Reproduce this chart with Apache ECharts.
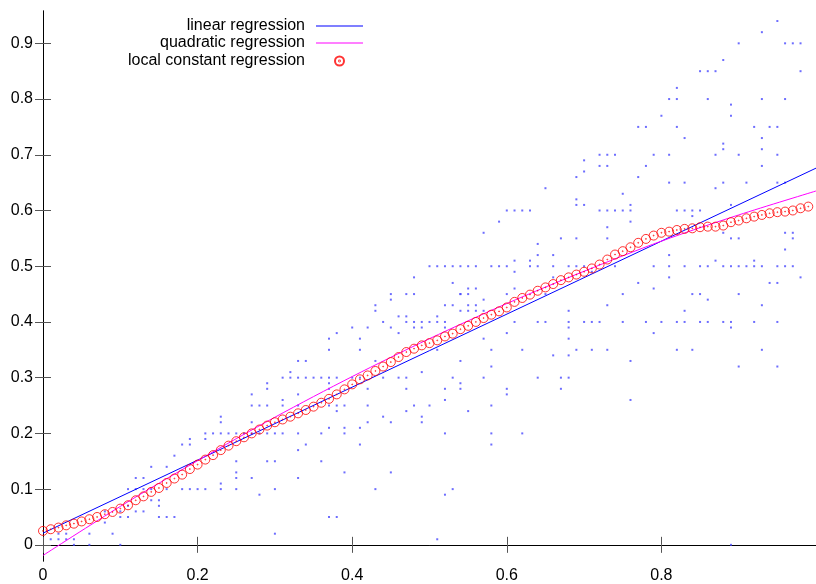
<!DOCTYPE html>
<html>
<head>
<meta charset="utf-8">
<script src="https://cdn.jsdelivr.net/npm/echarts@6/dist/echarts.min.js"></script>
<style>
  html, body { margin: 0; padding: 0; background: #fff; }
  #chart { width: 816px; height: 584px; }
</style>
</head>
<body>
<div id="chart"></div>
<script>
// tick labels
const xTicks = [0, 0.2, 0.4, 0.6, 0.8]
const yTicks = [0, 0.1, 0.2, 0.3, 0.4, 0.5, 0.6, 0.7, 0.8, 0.9]

// raw observations (x, y)
const dots = [
  [0.01, 0.01], [0.02, 0.01], [0.03, 0.01], [0.04, 0.01], [0.02, 0.02], [0.03, 0.02], [0.04, 0.00], [0.06, 0.00],
  [0.10, 0.00], [0.06, 0.02], [0.09, 0.02], [0.08, 0.04], [0.08, 0.06], [0.10, 0.06], [0.12, 0.06], [0.13, 0.06],
  [0.10, 0.05], [0.11, 0.05], [0.15, 0.05], [0.16, 0.05], [0.17, 0.05], [0.11, 0.07], [0.15, 0.07], [0.14, 0.08],
  [0.15, 0.08], [0.11, 0.10], [0.12, 0.10], [0.13, 0.10], [0.14, 0.10], [0.16, 0.10], [0.18, 0.10], [0.19, 0.10],
  [0.20, 0.10], [0.21, 0.10], [0.23, 0.10], [0.25, 0.10], [0.30, 0.10], [0.28, 0.09], [0.23, 0.11], [0.12, 0.12],
  [0.13, 0.12], [0.25, 0.12], [0.27, 0.12], [0.33, 0.12], [0.25, 0.13], [0.14, 0.14], [0.16, 0.14], [0.25, 0.15],
  [0.29, 0.15], [0.30, 0.15], [0.36, 0.15], [0.17, 0.16], [0.33, 0.17], [0.18, 0.18], [0.19, 0.18], [0.34, 0.18],
  [0.19, 0.19], [0.21, 0.19], [0.30, 0.02],
  [0.21, 0.20], [0.22, 0.20], [0.23, 0.20], [0.24, 0.20], [0.25, 0.20], [0.26, 0.20], [0.27, 0.20], [0.28, 0.20],
  [0.29, 0.20], [0.30, 0.20], [0.31, 0.20], [0.33, 0.20], [0.36, 0.20], [0.39, 0.20],
  [0.37, 0.21], [0.39, 0.21], [0.41, 0.21], [0.23, 0.22], [0.27, 0.22], [0.42, 0.22], [0.45, 0.22], [0.49, 0.22],
  [0.23, 0.23], [0.44, 0.23], [0.49, 0.23], [0.38, 0.24], [0.47, 0.24],
  [0.27, 0.25], [0.28, 0.25], [0.29, 0.25], [0.31, 0.25], [0.33, 0.25], [0.37, 0.25], [0.38, 0.25], [0.39, 0.25],
  [0.42, 0.25], [0.48, 0.25], [0.50, 0.25], [0.31, 0.26], [0.52, 0.26], [0.27, 0.27], [0.33, 0.27],
  [0.29, 0.28], [0.37, 0.28], [0.42, 0.28], [0.47, 0.28], [0.52, 0.28], [0.29, 0.29], [0.37, 0.29],
  [0.31, 0.30], [0.32, 0.30], [0.33, 0.30], [0.34, 0.30], [0.35, 0.30], [0.36, 0.30], [0.37, 0.30], [0.38, 0.30],
  [0.40, 0.30], [0.41, 0.30], [0.44, 0.30], [0.46, 0.30], [0.47, 0.30], [0.53, 0.30],
  [0.32, 0.31], [0.49, 0.31], [0.33, 0.33], [0.34, 0.33], [0.43, 0.33], [0.37, 0.35], [0.41, 0.35], [0.51, 0.35],
  [0.37, 0.37], [0.41, 0.37], [0.38, 0.38], [0.46, 0.38],
  [0.40, 0.39], [0.42, 0.39], [0.45, 0.39], [0.48, 0.39], [0.49, 0.39], [0.52, 0.39],
  [0.44, 0.40], [0.47, 0.40], [0.48, 0.40], [0.49, 0.40], [0.50, 0.40], [0.51, 0.40], [0.52, 0.40],
  [0.46, 0.41], [0.47, 0.41], [0.51, 0.41], [0.43, 0.42], [0.56, 0.42],
  [0.43, 0.43], [0.52, 0.43], [0.53, 0.43], [0.55, 0.43], [0.56, 0.43], [0.45, 0.44],
  [0.45, 0.45], [0.47, 0.45], [0.48, 0.45], [0.54, 0.45], [0.55, 0.45], [0.56, 0.46], [0.53, 0.47], [0.48, 0.48],
  [0.50, 0.50], [0.51, 0.50], [0.52, 0.50], [0.53, 0.50], [0.54, 0.50], [0.55, 0.50], [0.56, 0.50],
  [0.72, 0.70], [0.70, 0.69], [0.72, 0.68], [0.70, 0.67], [0.69, 0.66], [0.65, 0.64], [0.69, 0.62], [0.69, 0.61],
  [0.70, 0.61], [0.60, 0.60], [0.61, 0.60], [0.62, 0.60], [0.63, 0.60], [0.72, 0.60],
  [0.59, 0.58], [0.57, 0.56], [0.67, 0.55], [0.69, 0.55], [0.64, 0.54], [0.64, 0.52], [0.66, 0.52], [0.61, 0.51],
  [0.63, 0.51], [0.58, 0.50], [0.59, 0.50], [0.60, 0.50], [0.63, 0.50], [0.64, 0.50], [0.66, 0.50], [0.68, 0.50],
  [0.69, 0.50], [0.70, 0.50], [0.61, 0.49], [0.71, 0.49], [0.66, 0.48], [0.55, 0.46], [0.61, 0.46],
  [0.54, 0.45], [0.60, 0.45], [0.65, 0.45], [0.57, 0.44], [0.54, 0.42], [0.55, 0.42], [0.57, 0.42], [0.68, 0.42],
  [0.61, 0.40], [0.64, 0.40], [0.65, 0.40], [0.68, 0.40], [0.70, 0.40], [0.71, 0.40], [0.72, 0.40],
  [0.68, 0.39], [0.60, 0.38], [0.57, 0.37], [0.68, 0.37], [0.58, 0.35], [0.62, 0.35], [0.69, 0.35], [0.71, 0.35],
  [0.66, 0.34], [0.68, 0.34], [0.54, 0.33], [0.58, 0.32], [0.57, 0.30], [0.64, 0.30], [0.67, 0.30], [0.68, 0.30],
  [0.54, 0.29], [0.54, 0.28], [0.60, 0.28], [0.67, 0.28], [0.60, 0.27], [0.58, 0.25], [0.55, 0.24],
  [0.58, 0.20], [0.62, 0.20], [0.58, 0.18], [0.52, 0.20], [0.41, 0.18],
  [0.39, 0.13], [0.45, 0.13], [0.43, 0.10], [0.53, 0.10], [0.52, 0.09], [0.37, 0.05], [0.38, 0.05], [0.51, 0.01],
  [0.95, 0.94], [0.93, 0.92], [0.90, 0.90], [0.96, 0.90], [0.97, 0.90], [0.98, 0.90], [0.88, 0.87],
  [0.85, 0.85], [0.86, 0.85], [0.87, 0.85], [0.98, 0.85], [0.82, 0.82],
  [0.81, 0.80], [0.82, 0.80], [0.86, 0.80], [0.93, 0.80], [0.96, 0.80], [0.89, 0.79], [0.80, 0.77], [0.89, 0.77],
  [0.77, 0.75], [0.78, 0.75], [0.82, 0.75], [0.92, 0.75], [0.94, 0.75], [0.95, 0.75],
  [0.83, 0.73], [0.93, 0.73], [0.88, 0.72], [0.88, 0.71], [0.93, 0.71],
  [0.73, 0.70], [0.74, 0.70], [0.79, 0.70], [0.81, 0.70], [0.87, 0.70], [0.90, 0.70], [0.95, 0.70],
  [0.73, 0.68], [0.78, 0.68], [0.93, 0.68], [0.77, 0.66],
  [0.81, 0.65], [0.83, 0.65], [0.88, 0.65], [0.91, 0.65], [0.95, 0.65], [0.96, 0.65],
  [0.87, 0.64], [0.75, 0.63], [0.76, 0.61], [0.89, 0.61],
  [0.73, 0.60], [0.74, 0.60], [0.75, 0.60], [0.76, 0.60], [0.82, 0.60], [0.83, 0.60], [0.84, 0.60], [0.85, 0.60],
  [0.84, 0.59], [0.76, 0.58], [0.73, 0.57], [0.88, 0.56], [0.96, 0.56], [0.97, 0.56],
  [0.73, 0.55], [0.89, 0.55], [0.90, 0.55], [0.97, 0.55], [0.96, 0.53], [0.81, 0.52], [0.87, 0.51], [0.92, 0.51],
  [0.74, 0.50], [0.79, 0.50], [0.81, 0.50], [0.83, 0.50], [0.85, 0.50], [0.86, 0.50], [0.88, 0.50], [0.89, 0.50],
  [0.90, 0.50], [0.91, 0.50], [0.92, 0.50], [0.93, 0.50], [0.95, 0.50], [0.96, 0.50], [0.97, 0.50],
  [0.81, 0.48], [0.98, 0.48], [0.77, 0.47], [0.94, 0.47], [0.95, 0.47], [0.79, 0.46],
  [0.75, 0.45], [0.84, 0.45], [0.85, 0.45], [0.90, 0.45], [0.86, 0.44], [0.73, 0.43], [0.93, 0.43], [0.83, 0.42],
  [0.75, 0.40], [0.78, 0.40], [0.80, 0.40], [0.82, 0.40], [0.83, 0.40], [0.85, 0.40], [0.86, 0.40], [0.88, 0.40],
  [0.89, 0.40], [0.92, 0.40], [0.95, 0.40],
  [0.89, 0.39], [0.79, 0.38], [0.73, 0.35], [0.82, 0.35], [0.84, 0.35], [0.93, 0.35], [0.76, 0.33], [0.90, 0.32],
  [0.95, 0.32], [0.76, 0.26], [0.89, 0.00]
]

// fitted lines
const linX = [0, 1]
const linY = [0.021, 0.676]
const quadX = [0, 0.1, 0.2, 0.3, 0.4, 0.5, 0.6, 0.7, 0.8, 0.9, 1.0]
const quadY = [-0.019, 0.069, 0.151, 0.229, 0.302, 0.370, 0.433, 0.491, 0.545, 0.592, 0.635]

// local constant regression, evaluated at x = 0, 0.01, ... 0.99
const locX = [
  0.00, 0.01, 0.02, 0.03, 0.04, 0.05, 0.06, 0.07, 0.08, 0.09,
  0.10, 0.11, 0.12, 0.13, 0.14, 0.15, 0.16, 0.17, 0.18, 0.19,
  0.20, 0.21, 0.22, 0.23, 0.24, 0.25, 0.26, 0.27, 0.28, 0.29,
  0.30, 0.31, 0.32, 0.33, 0.34, 0.35, 0.36, 0.37, 0.38, 0.39,
  0.40, 0.41, 0.42, 0.43, 0.44, 0.45, 0.46, 0.47, 0.48, 0.49,
  0.50, 0.51, 0.52, 0.53, 0.54, 0.55, 0.56, 0.57, 0.58, 0.59,
  0.60, 0.61, 0.62, 0.63, 0.64, 0.65, 0.66, 0.67, 0.68, 0.69,
  0.70, 0.71, 0.72, 0.73, 0.74, 0.75, 0.76, 0.77, 0.78, 0.79,
  0.80, 0.81, 0.82, 0.83, 0.84, 0.85, 0.86, 0.87, 0.88, 0.89,
  0.90, 0.91, 0.92, 0.93, 0.94, 0.95, 0.96, 0.97, 0.98, 0.99
]
const locY = [
  0.025, 0.028, 0.031, 0.035, 0.038, 0.042, 0.046, 0.050, 0.055, 0.059,
  0.065, 0.071, 0.080, 0.087, 0.095, 0.102, 0.111, 0.119, 0.126, 0.136,
  0.144, 0.153, 0.161, 0.170, 0.178, 0.186, 0.193, 0.200, 0.207, 0.214,
  0.220, 0.225, 0.230, 0.236, 0.242, 0.248, 0.255, 0.262, 0.270, 0.279,
  0.288, 0.297, 0.304, 0.312, 0.320, 0.328, 0.337, 0.346, 0.352, 0.358,
  0.362, 0.367, 0.374, 0.379, 0.387, 0.393, 0.400, 0.407, 0.413, 0.419,
  0.426, 0.436, 0.443, 0.449, 0.456, 0.462, 0.468, 0.475, 0.480, 0.485,
  0.490, 0.496, 0.503, 0.512, 0.521, 0.527, 0.534, 0.542, 0.549, 0.555,
  0.560, 0.562, 0.565, 0.567, 0.568, 0.570, 0.571, 0.571, 0.573, 0.579,
  0.582, 0.586, 0.589, 0.592, 0.595, 0.597, 0.598, 0.600, 0.604, 0.607
]

const zip = (xs, ys) => xs.map((x, i) => [x, ys[i]])

const FONT = 'Liberation Sans'
const ringDot = 'path://M0,-10A10,10 0 1,1 0,10A10,10 0 1,1 0,-10ZM0,-1A1,1 0 1,1 0,1A1,1 0 1,1 0,-1Z'

const chart = echarts.init(document.getElementById('chart'))

const tickStyle = { show: true, inside: true, length: 8, lineStyle: { color: '#555', width: 1 } }
const lineAxis = { show: true, lineStyle: { color: '#000', width: 1 } }

function legendRow(name, icon, top, right, w, h, pad) {
  return {
    data: [{ name: name, icon: icon }],
    orient: 'vertical',
    align: 'right',
    top: top,
    right: right,
    padding: 0,
    itemWidth: w,
    itemHeight: h,
    selectedMode: false,
    textStyle: { fontFamily: FONT, fontSize: 16, color: '#000', padding: [0, pad, 0, 0] }
  }
}

chart.setOption({
  animation: false,
  backgroundColor: '#fff',
  grid: { left: 43, top: 11, width: 778, height: 551, containLabel: false },
  legend: [
    legendRow('linear regression', 'rect', 18, 453, 47, 1, 6),
    legendRow('quadratic regression', 'rect', 35, 453, 47, 1, 6),
    legendRow('local constant regression', ringDot, 53, 471, 9, 9, 25)
  ],
  xAxis: [
    {
      type: 'value', min: 0, max: 1, position: 'bottom',
      axisLine: lineAxis,
      axisTick: Object.assign({ customValues: xTicks }, tickStyle),
      axisLabel: { customValues: xTicks, fontFamily: FONT, fontSize: 16, color: '#000', margin: 7 },
      splitLine: { show: false }
    },
    {
      type: 'value', min: 0, max: 1, position: 'top',
      axisLine: lineAxis,
      axisTick: Object.assign({ customValues: xTicks }, tickStyle),
      axisLabel: { show: false },
      splitLine: { show: false }
    }
  ],
  yAxis: [
    {
      type: 'value', min: -0.029, max: 0.958, position: 'left',
      axisLine: lineAxis,
      axisTick: Object.assign({ customValues: yTicks }, tickStyle),
      axisLabel: { customValues: yTicks, fontFamily: FONT, fontSize: 16, color: '#000', margin: 10 },
      splitLine: { show: false }
    },
    {
      type: 'value', min: -0.029, max: 0.958, position: 'right',
      axisLine: lineAxis,
      axisTick: Object.assign({ customValues: yTicks }, tickStyle),
      axisLabel: { show: false },
      splitLine: { show: false }
    }
  ],
  series: [
    {
      name: 'data',
      type: 'scatter',
      data: dots,
      symbol: 'rect',
      symbolSize: 2,
      itemStyle: { color: '#4848ff' },
      z: 1
    },
    {
      name: 'linear regression',
      type: 'line',
      data: zip(linX, linY),
      showSymbol: false,
      lineStyle: { color: '#0000ff', width: 1 },
      itemStyle: { color: '#0000ff' },
      z: 2
    },
    {
      name: 'quadratic regression',
      type: 'line',
      data: zip(quadX, quadY),
      smooth: 0.3,
      showSymbol: false,
      lineStyle: { color: '#ff00ff', width: 1 },
      itemStyle: { color: '#ff00ff' },
      z: 3
    },
    {
      name: 'local constant regression',
      type: 'scatter',
      data: zip(locX, locY),
      symbol: ringDot,
      symbolSize: 9,
      itemStyle: { color: 'rgba(0,0,0,0)', borderColor: '#ff0000', borderWidth: 1 },
      z: 4
    }
  ]
})
</script>
</body>
</html>
